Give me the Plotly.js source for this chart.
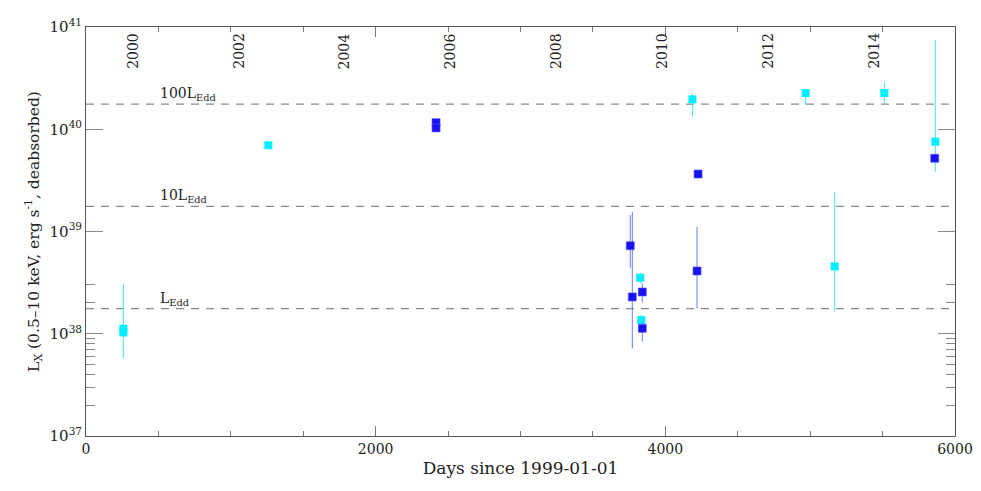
<!DOCTYPE html>
<html>
<head>
<meta charset="utf-8">
<script src="https://cdn.plot.ly/plotly-3.0.1.min.js"></script>
<style>html,body{margin:0;padding:0;background:#fff;}#chart{width:981px;height:491px;}</style>
</head>
<body>
<div id="chart"></div>
<script>
// ---- data (days since 1999-01-01, Lx in erg/s) ----
const cyanDays = [258, 258, 1259, 3827, 3834, 4187, 4969, 5169, 5512, 5864];
const cyanLx   = [1.12e38, 1.03e38, 6.97e39, 3.53e38, 1.36e38, 1.96e40, 2.26e40, 4.56e38, 2.26e40, 7.56e39];
const cyanHi   = [3.07e38, null, null, 3.95e38, 1.52e38, 2.25e40, 2.40e40, 2.45e39, 2.88e40, 7.46e40];
const cyanLo   = [5.75e37, null, null, 3.10e38, 1.23e38, 1.33e40, 1.73e40, 1.67e38, 1.79e40, 3.85e39];

const blueDays = [2417, 2417, 3758, 3772, 3841, 3841, 4219, 4226, 5860];
const blueLx   = [1.16e40, 1.03e40, 7.26e38, 2.29e38, 2.56e38, 1.13e38, 4.11e38, 3.65e39, 5.2e39];
const blueHi   = [null, null, 1.45e39, 1.56e39, 3.11e38, 1.30e38, 1.11e39, null, null];
const blueLo   = [null, null, 4.40e38, 7.20e37, 2.03e38, 8.36e37, 1.77e38, null, null];

const LEdd = 1.76e38;
const eddFactors = [1, 10, 100];
const eddLabels = ['L<sub>Edd</sub>', '10L<sub>Edd</sub>', '100L<sub>Edd</sub>'];

const xTickVals = [0, 2000, 4000, 6000];
const yTickExps = [37, 38, 39, 40, 41];
const years = [2000, 2002, 2004, 2006, 2008, 2010, 2012, 2014];

// ---- helpers ----
const dayOf = y => Math.round((Date.UTC(y,0,1) - Date.UTC(1999,0,1)) / 86400000);
const plus  = (v, h) => v.map((x,i) => h[i] == null ? 0 : h[i] - x);
const minus = (v, l) => v.map((x,i) => l[i] == null ? 0 : x - l[i]);

const serif = 'DejaVu Serif, Liberation Serif, serif';

const traces = [];
eddFactors.forEach(f => {
  traces.push({x:[0,6000], y:[LEdd*f, LEdd*f], mode:'lines', type:'scatter',
    line:{color:'#8a8a8a', width:1.3, dash:'8px,7px'}, hoverinfo:'skip', showlegend:false});
});
traces.push({x:cyanDays, y:cyanLx, type:'scatter', mode:'markers',
  marker:{symbol:'square', size:8, color:'#00f0ff'},
  error_y:{type:'data', symmetric:false, array:plus(cyanLx,cyanHi), arrayminus:minus(cyanLx,cyanLo),
    color:'#3fe6ff', thickness:1, width:0}, showlegend:false});
traces.push({x:blueDays, y:blueLx, type:'scatter', mode:'markers',
  marker:{symbol:'square', size:8, color:'#1c10ee', line:{color:'#4a55ff', width:0.6}},
  error_y:{type:'data', symmetric:false, array:plus(blueLx,blueHi), arrayminus:minus(blueLx,blueLo),
    color:'#6f7cff', thickness:1, width:0}, showlegend:false});

const annotations = [];
eddFactors.forEach((f,i) => {
  annotations.push({x:500, y:Math.log10(LEdd*f), xref:'x', yref:'y', text:eddLabels[i],
    showarrow:false, xanchor:'left', yanchor:'bottom', yshift:-1,
    font:{family:serif, size:14, color:'#222'}});
});
years.forEach(y => {
  annotations.push({x:dayOf(y), y:1, xref:'x', yref:'paper', text:String(y), textangle:-90,
    showarrow:false, xanchor:'center', yanchor:'top', xshift:-6, yshift:-4,
    font:{family:serif, size:14, color:'#222'}});
});

const layout = {
  width:981, height:491,
  margin:{l:86, r:26, t:27, b:55},
  paper_bgcolor:'#fff', plot_bgcolor:'#fff',
  font:{family:serif, color:'#222'},
  xaxis:{range:[0,6000], showgrid:false, zeroline:false, showline:true, linecolor:'#555', linewidth:1,
    mirror:'ticks', ticks:'inside', ticklen:10, tickcolor:'#777',
    tickmode:'array', tickvals:xTickVals, ticktext:xTickVals.map(String),
    tickfont:{family:serif, size:14, color:'#222'},
    minor:{dtick:500, tick0:0, ticks:'inside', ticklen:5, tickcolor:'#777', showgrid:false},
    title:{text:'Days since 1999-01-01', font:{family:serif, size:17, color:'#222'}, standoff:6}},
  yaxis:{type:'log', range:[37,41], showgrid:false, zeroline:false, showline:true, linecolor:'#555', linewidth:1,
    mirror:'ticks', ticks:'inside', ticklen:17, tickcolor:'#888',
    tickmode:'array', tickvals:yTickExps.map(e => Math.pow(10,e)), ticktext:yTickExps.map(e => '10<sup>'+e+'</sup>'),
    tickfont:{family:serif, size:15, color:'#222'},
    minor:{tickmode:'array', tickvals:[2e37,3e37,4e37,5e37,6e37,7e37,8e37,9e37,2e38,3e38], ticks:'inside', ticklen:9, tickcolor:'#888', showgrid:false},
    title:{text:'L<sub>X</sub> (0.5\u201310 keV, erg s<sup>-1</sup>, deabsorbed)', font:{family:serif, size:15.5, color:'#222'}, standoff:6}},
  annotations:annotations,
  showlegend:false
};

Plotly.newPlot('chart', traces, layout, {staticPlot:true, displayModeBar:false});
</script>
</body>
</html>
